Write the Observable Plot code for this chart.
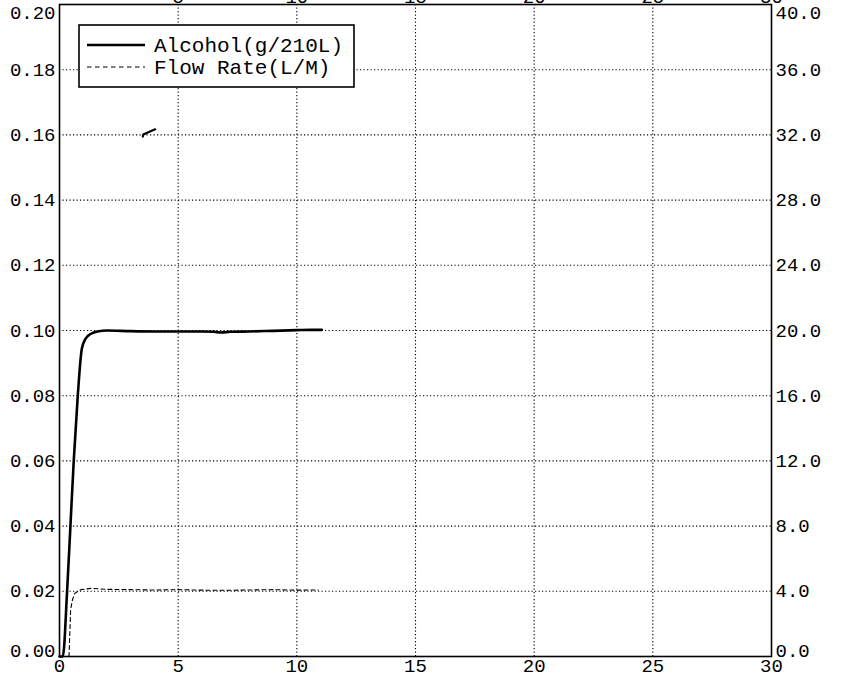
<!DOCTYPE html>
<html>
<head>
<meta charset="utf-8">
<script src="https://cdn.jsdelivr.net/npm/d3@7"></script>
<script src="https://cdn.jsdelivr.net/npm/@observablehq/plot@0.6"></script>
<style>
  html, body { margin: 0; padding: 0; background: #fff; }
  #wrap { position: relative; width: 846px; height: 677px; overflow: hidden; }
  #legend { position: absolute; left: 78px; top: 24px; }
</style>
</head>
<body>
<div id="wrap"></div>
<script>
// ---- data ----
const alcoholTime  = [0, 0.14, 0.32, 0.46, 0.60, 0.77, 0.94, 1.1, 1.33, 1.6, 2.0, 3.0, 4.0, 5.0, 6.0, 6.5, 6.8, 7.2, 8.0, 9.0, 10.0, 10.6, 11.05];
const alcoholValue = [0, 0, 0.02, 0.04, 0.06, 0.08, 0.0944, 0.0975, 0.099, 0.0997, 0.1, 0.0998, 0.0997, 0.0997, 0.0997, 0.0996, 0.0994, 0.0996, 0.0997, 0.0999, 0.1001, 0.1002, 0.1002];
const strayTime  = [3.51, 3.53, 4.03];
const strayValue = [0.1595, 0.1601, 0.1617];
const flowTime  = [0.40, 0.47, 0.55, 0.65, 0.9, 1.33, 2.0, 3.0, 4.0, 5.0, 6.0, 7.0, 8.0, 9.0, 10.0, 10.9];
const flowValue = [0.0, 2.9, 3.5, 3.88, 4.1, 4.18, 4.12, 4.1, 4.08, 4.1, 4.07, 4.06, 4.08, 4.1, 4.07, 4.08];

const xTicks = [0, 5, 10, 15, 20, 25, 30];
const leftTicks = [0, 0.02, 0.04, 0.06, 0.08, 0.10, 0.12, 0.14, 0.16, 0.18, 0.20];
const rightTicks = [0, 4, 8, 12, 16, 20, 24, 28, 32, 36, 40];
const seriesNames = ["Alcohol(g/210L)", "Flow Rate(L/M)"];

const FLOW_TO_LEFT = 0.2 / 40; // right axis 0–40 maps onto left 0–0.20

const alcohol = alcoholTime.map((t, i) => ({t, v: alcoholValue[i]}));
const stray = strayTime.map((t, i) => ({t, v: strayValue[i]}));
const flow = flowTime.map((t, i) => ({t, v: flowValue[i] * FLOW_TO_LEFT}));

const FONT = "'Liberation Mono', 'DejaVu Sans Mono', monospace";
const inner = (arr) => arr.slice(1, -1);

const plot = Plot.plot({
  width: 846,
  height: 677,
  marginLeft: 59,
  marginRight: 75,
  marginTop: 4,
  marginBottom: 21,
  style: {fontFamily: FONT, fontSize: "19px", color: "#000", background: "#fff"},
  x: {domain: [0, 30]},
  y: {domain: [0, 0.2]},
  marks: [
    Plot.gridX(inner(xTicks), {stroke: "#000", strokeOpacity: 1, strokeWidth: 1.1, strokeDasharray: "1.2,2.3"}),
    Plot.gridY(inner(leftTicks), {stroke: "#000", strokeOpacity: 1, strokeWidth: 1.1, strokeDasharray: "1.2,2.3"}),
    // bottom x axis
    Plot.axisX(xTicks, {anchor: "bottom", tickSize: 0, tickPadding: 2, label: null}),
    // top x axis (labels run off the top edge)
    Plot.axisX(xTicks.slice(1), {anchor: "top", tickSize: 0, tickPadding: 0, dy: -2, label: null}),
    // left axis
    Plot.axisY(inner(leftTicks), {anchor: "left", tickSize: 0, tickPadding: 4, label: null, tickFormat: d => d.toFixed(2)}),
    Plot.axisY([leftTicks[leftTicks.length - 1]], {anchor: "left", tickSize: 0, tickPadding: 4, label: null, dy: 8, tickFormat: d => d.toFixed(2)}),
    Plot.axisY([leftTicks[0]], {anchor: "left", tickSize: 0, tickPadding: 4, label: null, dy: -6, tickFormat: d => d.toFixed(2)}),
    // right axis (flow scale)
    Plot.axisY(inner(rightTicks).map(d => d * FLOW_TO_LEFT), {anchor: "right", tickSize: 0, tickPadding: 4, label: null, tickFormat: d => (d / FLOW_TO_LEFT).toFixed(1)}),
    Plot.axisY([rightTicks[rightTicks.length - 1] * FLOW_TO_LEFT], {anchor: "right", tickSize: 0, tickPadding: 4, label: null, dy: 8, tickFormat: d => (d / FLOW_TO_LEFT).toFixed(1)}),
    Plot.axisY([rightTicks[0] * FLOW_TO_LEFT], {anchor: "right", tickSize: 0, tickPadding: 4, label: null, dy: -6, tickFormat: d => (d / FLOW_TO_LEFT).toFixed(1)}),
    // series
    Plot.line(flow, {x: "t", y: "v", stroke: "#000", strokeWidth: 1.1, strokeDasharray: "4,3"}),
    Plot.line(alcohol, {x: "t", y: "v", stroke: "#000", strokeWidth: 2.6, curve: "monotone-x"}),
    Plot.line(stray, {x: "t", y: "v", stroke: "#000", strokeWidth: 2.2}),
    Plot.frame({stroke: "#000", strokeWidth: 1.6})
  ]
});
document.getElementById("wrap").appendChild(plot);

// legend box inside plot area
const leg = d3.select("#wrap").append("svg")
  .attr("id", "legend")
  .attr("width", 278).attr("height", 66);
leg.append("rect").attr("x", 1).attr("y", 1).attr("width", 275).attr("height", 62)
  .attr("fill", "#fff").attr("stroke", "#000").attr("stroke-width", 1.6);
const rows = [
  {name: seriesNames[0], width: 2.6, dash: null},
  {name: seriesNames[1], width: 1.1, dash: "4.5,3.5"}
];
rows.forEach((r, i) => {
  const yy = 21 + i * 22;
  leg.append("line").attr("x1", 9).attr("x2", 67).attr("y1", yy).attr("y2", yy)
    .attr("stroke", "#000").attr("stroke-width", r.width)
    .attr("stroke-dasharray", r.dash);
  leg.append("text").attr("x", 76).attr("y", yy).attr("dy", "0.35em")
    .attr("font-family", FONT).attr("font-size", 21).attr("fill", "#000")
    .text(r.name);
});
</script>
</body>
</html>
